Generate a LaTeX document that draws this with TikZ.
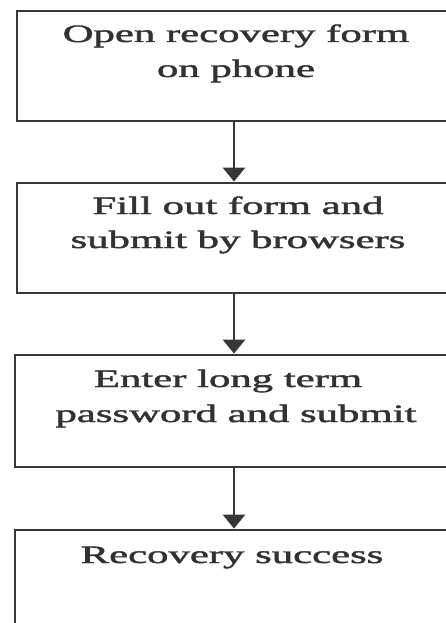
\documentclass[tikz,border=0pt]{standalone}
\usepackage{fontspec}
\setmainfont{Liberation Serif}
\newfontfamily\lblfont[FakeBold=1.4]{Liberation Serif}
\usetikzlibrary{arrows.meta}
\definecolor{boxgray}{RGB}{55,55,55}
\definecolor{txtgray}{RGB}{50,50,50}
\begin{document}
\begin{tikzpicture}[x=1pt,y=-1pt,
  box/.style={draw=boxgray, line width=2.8pt, rectangle, inner sep=0pt, fill=white},
  lbl/.style={text=txtgray, anchor=base, inner sep=0pt, font=\lblfont\fontsize{25}{30}\selectfont},
  flow/.style={draw=boxgray, line width=2.8pt, -{Triangle[width=22pt,length=14pt]}}]
\useasboundingbox (0,0) rectangle (446,623);
\clip (0,0) rectangle (446,623);
\fill[white] (0,0) rectangle (446,623);
% boxes
\node[box, minimum width=434pt, minimum height=110pt] (b1) at (234,66) {};
\node[box, minimum width=434pt, minimum height=110pt] (b2) at (234,238) {};
\node[box, minimum width=438pt, minimum height=112pt] (b3) at (234,411) {};
\node[box, minimum width=438pt, minimum height=110pt] (b4) at (234,585) {};
% texts
\node[lbl] (t1a) at (236,42) {\scalebox{1.71}[1]{Open recovery form}};
\node[lbl] (t1b) at (236,77) {\scalebox{1.71}[1]{on phone}};
\node[lbl] (t2a) at (238,214) {\scalebox{1.71}[1]{Fill out form and}};
\node[lbl] (t2b) at (238,248) {\scalebox{1.71}[1]{submit by browsers}};
\node[lbl] (t3a) at (228,387) {\scalebox{1.71}[1]{Enter long term}};
\node[lbl] (t3b) at (236,422) {\scalebox{1.71}[1]{password and submit}};
\node[lbl] (t4a) at (232,563) {\scalebox{1.71}[1]{Recovery success}};
% arrows
\draw[flow] (b1.south) -- (b2.north);
\draw[flow] (b2.south) -- (b3.north);
\draw[flow] (b3.south) -- (b4.north);
\end{tikzpicture}
\end{document}
